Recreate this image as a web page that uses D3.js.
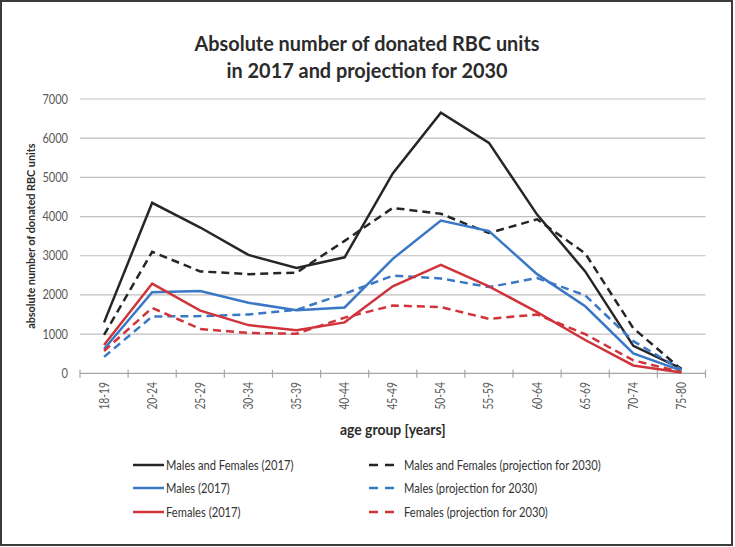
<!DOCTYPE html>
<html>
<head>
<meta charset="utf-8">
<script src="https://cdn.jsdelivr.net/npm/d3@7"></script>
<style>
  html, body { margin: 0; padding: 0; background: #fff; }
  svg { display: block; }
  text { font-family: Lato, "Open Sans", sans-serif; }
</style>
</head>
<body>
<svg id="chart" width="735" height="547"></svg>
<script>
const categories = ["18-19","20-24","25-29","30-34","35-39","40-44","45-49","50-54","55-59","60-64","65-69","70-74","75-80"];
const yTicks = [0,1000,2000,3000,4000,5000,6000,7000];
const mf2017 = [1300,4350,3720,3020,2690,2960,5100,6650,5880,4050,2600,700,120];
const mf2030 = [980,3100,2600,2530,2570,3380,4220,4070,3580,3930,3060,1150,100];
const m2017  = [620,2070,2100,1800,1610,1680,2920,3900,3630,2530,1710,510,70];
const m2030  = [420,1450,1460,1500,1620,2030,2490,2420,2200,2430,1990,820,90];
const f2017  = [720,2290,1600,1230,1100,1300,2220,2770,2220,1560,850,200,20];
const f2030  = [570,1670,1130,1030,1010,1420,1730,1690,1390,1500,1000,330,30];

const seriesNames = ["Males and Females (2017)","Males and Females (projection for 2030)","Males (2017)","Males (projection for 2030)","Females (2017)","Females (projection for 2030)"];
const seriesValues = [mf2017, mf2030, m2017, m2030, f2017, f2030];
const seriesColors = ["#262626","#262626","#3a78c6","#3a78c6","#d0343a","#d0343a"];
const seriesDashed = [false,true,false,true,false,true];

(function () {
const svg = d3.select("#chart");

// frame
svg.append("rect").attr("x",1).attr("y",1).attr("width",731).attr("height",544)
  .attr("fill","#fff").attr("stroke","#3c3c3c").attr("stroke-width",2);

const pLeft = 80, pRight = 705.5, pTop = 99, pBottom = 373.3;
const x = d3.scaleBand().domain(categories).range([pLeft, pRight]);
const y = d3.scaleLinear().domain([0, 7000]).range([pBottom, pTop]);

// gridlines
svg.append("g").selectAll("line").data(yTicks.filter(d => d > 0)).join("line")
  .attr("x1", pLeft).attr("x2", pRight)
  .attr("y1", d => y(d)).attr("y2", d => y(d))
  .attr("stroke", "#bfbfbf").attr("stroke-width", 1.2);

// y tick labels
svg.append("g").selectAll("text").data(yTicks).join("text")
  .attr("transform", d => `translate(68,${y(d) + 4.5}) scale(0.85,1)`)
  .attr("text-anchor", "end").attr("font-size", 13).attr("fill", "#595959")
  .text(d => d);

// x axis line
svg.append("line").attr("x1", pLeft).attr("x2", pRight).attr("y1", y(0)).attr("y2", y(0))
  .attr("stroke", "#a6a6a6").attr("stroke-width", 1.2);
// x ticks at band boundaries
const boundaries = categories.map(c => x(c)).concat([pRight]);
svg.append("g").selectAll("line").data(boundaries).join("line")
  .attr("x1", d => d).attr("x2", d => d)
  .attr("y1", y(0) - 3.5).attr("y2", y(0) + 4.5)
  .attr("stroke", "#a6a6a6").attr("stroke-width", 1.2);

// x tick labels
svg.append("g").selectAll("text").data(categories).join("text")
  .attr("transform", d => `translate(${x(d) + x.bandwidth()/2 + 4.5},382) rotate(-90) scale(0.82,1)`)
  .attr("text-anchor", "end").attr("font-size", 12.5).attr("fill", "#595959")
  .text(d => d);

// lines
const line = d3.line().x((d, i) => x(categories[i]) + x.bandwidth()/2).y(d => y(d));
seriesValues.forEach((vals, k) => {
  svg.append("path").datum(vals)
    .attr("d", line).attr("fill", "none")
    .attr("stroke", seriesColors[k]).attr("stroke-width", 2.5)
    .attr("stroke-dasharray", seriesDashed[k] ? "8,5" : null);
});

// title
svg.append("text").attr("transform", "translate(367,51) scale(0.97,1)").attr("text-anchor", "middle")
  .attr("font-size", 20.5).attr("font-weight", "bold").attr("fill", "#2b2b2b")
  .text("Absolute number of donated RBC units");
svg.append("text").attr("transform", "translate(367,78) scale(0.97,1)").attr("text-anchor", "middle")
  .attr("font-size", 20.5).attr("font-weight", "bold").attr("fill", "#2b2b2b")
  .text("in 2017 and projection for 2030");

// axis titles
svg.append("text").attr("transform", `translate(35,${(pTop+pBottom)/2}) rotate(-90) scale(0.9,1)`)
  .attr("text-anchor", "middle").attr("font-size", 12).attr("font-weight", "bold").attr("fill", "#2b2b2b")
  .text("absolute number of donated RBC units");
svg.append("text").attr("transform", `translate(${(pLeft+pRight)/2},435) scale(0.93,1)`).attr("text-anchor", "middle")
  .attr("font-size", 15).attr("font-weight", "bold").attr("fill", "#2b2b2b")
  .text("age group [years]");

// legend
const legRows = [465, 488, 512];
seriesNames.forEach((name, k) => {
  const col = k % 2, row = Math.floor(k / 2);
  const ly = legRows[row];
  const g = svg.append("g");
  if (col === 0) {
    g.append("line").attr("x1", 133).attr("x2", 164).attr("y1", ly).attr("y2", ly)
      .attr("stroke", seriesColors[k]).attr("stroke-width", 2.5);
    g.append("text").attr("transform", `translate(166,${ly + 4.5}) scale(0.86,1)`)
      .attr("font-size", 13).attr("fill", "#333")
      .text(name);
  } else {
    g.append("line").attr("x1", 369).attr("x2", 395).attr("y1", ly).attr("y2", ly)
      .attr("stroke", seriesColors[k]).attr("stroke-width", 2.5).attr("stroke-dasharray", "9,7");
    g.append("text").attr("transform", `translate(404,${ly + 4.5}) scale(0.86,1)`)
      .attr("font-size", 13).attr("fill", "#333")
      .text(name);
  }
});
})();
</script>
</body>
</html>
